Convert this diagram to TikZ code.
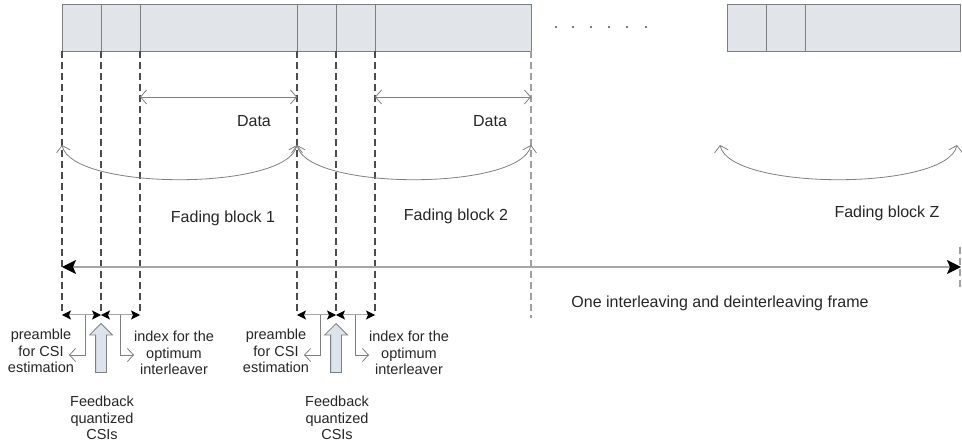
\documentclass[tikz,border=0pt]{standalone}
\usepackage{fontspec}
\setmainfont{Liberation Sans}
\usetikzlibrary{arrows.meta, positioning, calc, shapes.arrows}
\definecolor{barfill}{HTML}{E1E5EA}
\definecolor{barline}{HTML}{7F7F7F}
\definecolor{csifill}{HTML}{DCE3EC}
\tikzstyle{cell} = [rectangle, draw=barline, fill=barfill, line width=0.9pt, minimum height=47pt, inner sep=0pt, outer sep=0pt, anchor=north west]
\tikzstyle{guide} = [draw=black!70, line width=1.2pt, dash pattern=on 7pt off 4pt]
\tikzstyle{faint guide} = [guide, draw=gray!75]
\tikzstyle{span} = [draw=gray, line width=0.8pt, {Straight Barb[length=6pt,width=14pt]}-{Straight Barb[length=6pt,width=14pt]}]
\tikzstyle{swing} = [draw=gray, line width=0.8pt, {Straight Barb[length=6pt,width=14pt]}-{Straight Barb[length=6pt,width=14pt]}]
\tikzstyle{frame} = [draw=gray!70, line width=1.3pt, {Stealth[length=14pt,width=14pt,inset=3pt,color=black]}-{Stealth[length=14pt,width=14pt,inset=3pt,color=black]}]
\tikzstyle{tick} = [draw=gray!70, line width=1pt, {Stealth[length=9pt,width=9pt,inset=2pt,color=black]}-{Stealth[length=9pt,width=9pt,inset=2pt,color=black]}]
\tikzstyle{pointer} = [draw=gray, line width=0.8pt, -{Straight Barb[length=6pt,width=13pt]}]
\tikzstyle{biglabel} = [font=\fontsize{16}{19}\selectfont, text=black!85]
\tikzstyle{smalllabel} = [font=\fontsize{14.5}{16.5}\selectfont, align=center, text=black!85, inner sep=0pt]
\tikzstyle{feedback} = [single arrow, draw=gray, fill=csifill, line width=0.8pt, shape border rotate=90, minimum height=49pt, single arrow head extend=6pt, inner sep=5pt, anchor=tip]

\begin{document}
\begin{tikzpicture}[x=1pt, y=-1pt]
    \useasboundingbox (0,0) rectangle (962,446);

    % frame cells
    \node (pre1) [cell, minimum width=39pt] at (62,4) {};
    \node (idx1) [cell, minimum width=39pt] at (101,4) {};
    \node (dat1) [cell, minimum width=157pt] at (140,4) {};
    \node (pre2) [cell, minimum width=39pt] at (297,4) {};
    \node (idx2) [cell, minimum width=39pt] at (336,4) {};
    \node (dat2) [cell, minimum width=156pt] at (375,4) {};
    \node (preZ) [cell, minimum width=39pt] at (727,4) {};
    \node (idxZ) [cell, minimum width=39pt] at (766,4) {};
    \node (datZ) [cell, minimum width=155pt] at (805,4) {};
    \foreach \dx in {556,573,591,609,627,646}
        \fill[black!70] (\dx,27) circle (1.1pt);

    % guide ends
    \coordinate (g1) at (62,315);
    \coordinate (g2) at (101,315);
    \coordinate (g3) at (140,315);
    \coordinate (g4) at (297,315);
    \coordinate (g5) at (336,315);
    \coordinate (g6) at (375,315);
    \coordinate (g7) at (531,318);
    \coordinate (edgetop) at (960,247);
    \coordinate (edgebot) at (960,288);

    \draw [guide] (pre1.south west) -- (g1);
    \draw [guide] (pre1.south east) -- (g2);
    \draw [guide] (idx1.south east) -- (g3);
    \draw [guide] (pre2.south west) -- (g4);
    \draw [guide] (pre2.south east) -- (g5);
    \draw [guide] (idx2.south east) -- (g6);
    \draw [faint guide] (dat2.south east) -- (g7);
    \draw [faint guide] (edgetop) -- (edgebot);

    % data spans
    \coordinate (d1l) at (140,97);
    \coordinate (d1r) at (297,97);
    \coordinate (d2l) at (375,97);
    \coordinate (d2r) at (531,97);
    \draw [span] (d1l) -- (d1r);
    \draw [span] (d2l) -- (d2r);
    \node (data1) [biglabel] at (254,121) {Data};
    \node (data2) [biglabel] at (490,121) {Data};

    % fading blocks
    \coordinate (f1l) at (62,145);
    \coordinate (f1r) at (297,145);
    \coordinate (f2r) at (531,145);
    \coordinate (fZl) at (720,145);
    \coordinate (fZr) at (957,145);
    \draw [swing] (f1l) .. controls +(10,46) and +(-10,46) .. (f1r);
    \draw [swing] (f1r) .. controls +(10,46) and +(-10,46) .. (f2r);
    \draw [swing] (fZl) .. controls +(10,46) and +(-10,46) .. (fZr);
    \node (fade1) [biglabel] at (223,218) {Fading block 1};
    \node (fade2) [biglabel] at (456,216) {Fading block 2};
    \node (fadeZ) [biglabel] at (887,213) {Fading block Z};

    % whole frame
    \coordinate (fl) at (62,267);
    \coordinate (fr) at (961,267);
    \draw [frame] (fl) -- (fr);
    \node (frame) [biglabel] at (720,303) {One interleaving and deinterleaving frame};

    % first fading block detail
    \draw [tick] (g1) -- (g2);
    \draw [tick] (g2) -- (g3);
    \coordinate (s1) at (85,315);
    \coordinate (e1) at (69,355);
    \coordinate (s2) at (120,315);
    \coordinate (e2) at (134,355);
    \draw [pointer] (s1) |- (e1);
    \draw [pointer] (s2) |- (e2);
    \node (preamble1) [smalllabel] at (41,351) {preamble\\for CSI\\estimation};
    \node (index1) [smalllabel] at (174,353) {index for the\\optimum\\interleaver};
    \node (csi1) [feedback] at (101,323) {};
    \node (fb1) [smalllabel] at (102,418) {Feedback\\quantized\\CSIs};

    % second fading block detail
    \draw [tick] (g4) -- (g5);
    \draw [tick] (g5) -- (g6);
    \coordinate (s3) at (320,315);
    \coordinate (e3) at (304,355);
    \coordinate (s4) at (355,315);
    \coordinate (e4) at (369,355);
    \draw [pointer] (s3) |- (e3);
    \draw [pointer] (s4) |- (e4);
    \node (preamble2) [smalllabel] at (276,351) {preamble\\for CSI\\estimation};
    \node (index2) [smalllabel] at (409,353) {index for the\\optimum\\interleaver};
    \node (csi2) [feedback] at (336,323) {};
    \node (fb2) [smalllabel] at (337,418) {Feedback\\quantized\\CSIs};
\end{tikzpicture}
\end{document}
